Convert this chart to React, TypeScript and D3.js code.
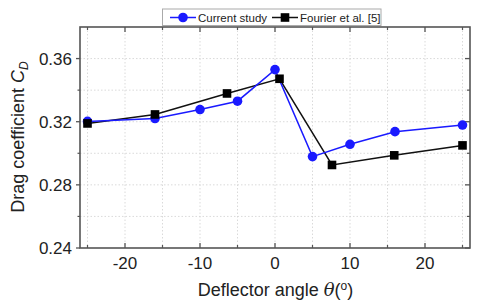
import React from "react";
import * as d3 from "d3";

const currentX = [-25, -16, -10, -5, 0, 5, 10, 16, 25];
const currentY = [0.3202, 0.322, 0.3277, 0.333, 0.353, 0.2979, 0.3057, 0.3137, 0.3179];
const fourierX = [-25, -16, -6.4, 0.6, 7.6, 15.9, 25];
const fourierY = [0.3189, 0.3246, 0.3379, 0.3472, 0.2926, 0.2987, 0.305];
const xTicks = [-20, -10, 0, 10, 20];
const xMinor = [-25, -15, -5, 5, 15, 25];
const yTicks = [0.24, 0.28, 0.32, 0.36];
const yMinor = [0.26, 0.3, 0.34];
const seriesNames = ["Current study", "Fourier et al. [5]"];

const W = 480, H = 307;
const L = 80, R = 470, T = 27, B = 248;
const FONT = "Liberation Sans, Arial, sans-serif";

export default function App() {
  const x = d3.scaleLinear().domain([-26, 26]).range([L, R]);
  const y = d3.scaleLinear().domain([0.24, 0.38]).range([B, T]);
  const line = d3.line<[number, number]>().x(d => x(d[0])).y(d => y(d[1]));
  const cur: [number, number][] = currentX.map((v, i) => [v, currentY[i]]);
  const fou: [number, number][] = fourierX.map((v, i) => [v, fourierY[i]]);
  const gridX = [...xTicks, ...xMinor];
  const gridY = [...yTicks.slice(1), ...yMinor];
  const axisCol = "#555";
  const blue = "#1a1aff";
  return (
    <svg width={W} height={H} style={{ position: "absolute", left: 0, top: 0, background: "#fff" }}>
      {gridX.map(v => (
        <line key={"gx" + v} x1={x(v)} x2={x(v)} y1={T} y2={B} stroke="#d0d0d0" strokeWidth={0.8} strokeDasharray="1.5,2" />
      ))}
      {gridY.map(v => (
        <line key={"gy" + v} x1={L} x2={R} y1={y(v)} y2={y(v)} stroke="#d0d0d0" strokeWidth={0.8} strokeDasharray="1.5,2" />
      ))}
      <rect x={L} y={T} width={R - L} height={B - T} fill="none" stroke={axisCol} strokeWidth={1.6} />
      {xTicks.map(v => (
        <g key={"xt" + v}>
          <line x1={x(v)} x2={x(v)} y1={B} y2={B - 5} stroke={axisCol} strokeWidth={1.3} />
          <line x1={x(v)} x2={x(v)} y1={T} y2={T + 5} stroke={axisCol} strokeWidth={1.3} />
          <text x={x(v)} y={269} textAnchor="middle" fontFamily={FONT} fontSize={17} fill="#222">{v}</text>
        </g>
      ))}
      {xMinor.map(v => (
        <g key={"xm" + v}>
          <line x1={x(v)} x2={x(v)} y1={B} y2={B - 3} stroke={axisCol} strokeWidth={1.2} />
          <line x1={x(v)} x2={x(v)} y1={T} y2={T + 3} stroke={axisCol} strokeWidth={1.2} />
        </g>
      ))}
      {yTicks.map(v => (
        <g key={"yt" + v}>
          <line x1={L - 4} x2={L} y1={y(v)} y2={y(v)} stroke={axisCol} strokeWidth={1.3} />
          <line x1={R} x2={R - 5} y1={y(v)} y2={y(v)} stroke={axisCol} strokeWidth={1.3} />
          <text x={72} y={y(v) + 6} textAnchor="end" fontFamily={FONT} fontSize={17} fill="#222">{v.toFixed(2)}</text>
        </g>
      ))}
      {yMinor.map(v => (
        <g key={"ym" + v}>
          <line x1={L - 2.5} x2={L} y1={y(v)} y2={y(v)} stroke={axisCol} strokeWidth={1.2} />
          <line x1={R} x2={R - 3} y1={y(v)} y2={y(v)} stroke={axisCol} strokeWidth={1.2} />
        </g>
      ))}
      <path d={line(fou) || ""} fill="none" stroke="#111" strokeWidth={1.5} />
      <path d={line(cur) || ""} fill="none" stroke={blue} strokeWidth={1.5} />
      {cur.map((d, i) => (
        <circle key={"c" + i} cx={x(d[0])} cy={y(d[1])} r={4.8} fill={blue} />
      ))}
      {fou.map((d, i) => (
        <rect key={"s" + i} x={x(d[0]) - 4.3} y={y(d[1]) - 4.3} width={8.6} height={8.6} fill="#000" />
      ))}
      <text x={275.5} y={296} textAnchor="middle" fontFamily={FONT} fontSize={18} fill="#222">
        Deflector angle <tspan fontFamily="DejaVu Serif, serif" fontStyle="italic">θ</tspan>(<tspan dy={-6} fontSize={12}>o</tspan><tspan dy={6}>)</tspan>
      </text>
      <text transform={`translate(24,137) rotate(-90)`} textAnchor="middle" fontFamily={FONT} fontSize={18} fill="#222">
        Drag coefficient <tspan fontStyle="italic">C</tspan><tspan fontStyle="italic" fontSize={12} dy={4}>D</tspan>
      </text>
      <rect x={162.5} y={9} width={218.5} height={16.5} fill="#fff" stroke="#aaa" strokeWidth={1} />
      <line x1={170} x2={196} y1={17.5} y2={17.5} stroke={blue} strokeWidth={1.5} />
      <circle cx={183} cy={17.5} r={4.8} fill={blue} />
      <text x={198} y={21.7} fontFamily={FONT} fontSize={11.5} fill="#222">{seriesNames[0]}</text>
      <line x1={272} x2={298} y1={17.5} y2={17.5} stroke="#111" strokeWidth={1.5} />
      <rect x={285 - 4.3} y={17.5 - 4.3} width={8.6} height={8.6} fill="#000" />
      <text x={300} y={21.7} fontFamily={FONT} fontSize={11.5} fill="#222">{seriesNames[1]}</text>
    </svg>
  );
}
